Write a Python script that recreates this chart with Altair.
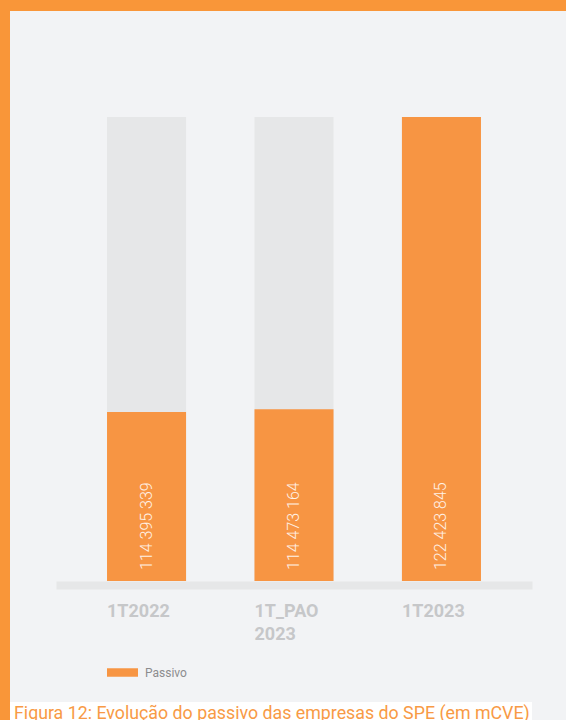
import altair as alt
import pandas as pd

# ---- data ----
CATEGORIES = ["1T2022", "1T_PAO 2023", "1T2023"]
PASSIVO = [114395339, 114473164, 122423845]
SERIES = "Passivo"
CAPTION = "Figura 12: Evolução do passivo das empresas do SPE (em mCVE)"
Y_MIN = 109800000  # axis does not start at zero in the original

df = pd.DataFrame({
    "cat": CATEGORIES,
    "valor": PASSIVO,
    "serie": [SERIES] * len(CATEGORIES),
})
df["maximo"] = max(PASSIVO)
df["rotulo"] = [f"{v:,}".replace(",", " ") for v in PASSIVO]

ORANGE = "#f79543"
FRAME = "#f99639"
GRAY_BAR = "#e6e7e8"
BG = "#f2f3f5"

W, H = 476, 464
PAD = {"left": 56, "top": 117, "right": 34, "bottom": 139}

x_axis = alt.Axis(
    title=None, labelAngle=0, labelAlign="left", labelBaseline="top",
    labelOffset=-39.5, labelPadding=17, labelFont="Roboto", labelFontSize=18,
    labelFontWeight="bold", labelColor="#c6c7c9", labelLineHeight=23,
    labelExpr="split(datum.label, ' ')", ticks=False, domainWidth=8,
    domainColor=GRAY_BAR, offset=4, grid=False,
)
X = alt.X("cat:N", sort=CATEGORIES,
          scale=alt.Scale(paddingInner=0.464, paddingOuter=0.346), axis=x_axis)
y_scale = alt.Scale(domain=[Y_MIN, max(PASSIVO)], zero=False, nice=False)

base = alt.Chart(df)

gray = base.mark_bar(color=GRAY_BAR).encode(
    x=X,
    y=alt.Y("maximo:Q", scale=y_scale, axis=None),
    y2=alt.datum(Y_MIN),
)

orange = base.mark_bar().encode(
    x=X,
    y=alt.Y("valor:Q", scale=y_scale, axis=None),
    y2=alt.datum(Y_MIN),
    color=alt.Color(
        "serie:N", scale=alt.Scale(range=[ORANGE]),
        legend=alt.Legend(
            title=None, orient="none", legendX=51, legendY=540, padding=0,
            symbolType="M-1,-0.274H1V0.274H-1Z", symbolSize=961,
            symbolStrokeWidth=0, symbolOpacity=1, labelFont="Roboto",
            labelFontSize=12, labelColor="#8c8c8e", labelOffset=7,
        ),
    ),
)

labels = base.mark_text(
    angle=270, align="left", baseline="middle", font="Roboto",
    fontSize=16, fontWeight=300, color="#fff1e6",
).encode(x=X, y=alt.value(H - 11), text="rotulo:N")

deco_df = pd.DataFrame({"k": [0]})
deco = alt.Chart(deco_df)
top_band = deco.mark_rect(color=FRAME).encode(
    x=alt.value(-56), x2=alt.value(510), y=alt.value(-117), y2=alt.value(-106))
left_band = deco.mark_rect(color=FRAME).encode(
    x=alt.value(-56), x2=alt.value(-46), y=alt.value(-117), y2=alt.value(603))
white_strip = deco.mark_rect(color="#ffffff").encode(
    x=alt.value(-46), x2=alt.value(476), y=alt.value(585), y2=alt.value(603))

caption = alt.Chart(pd.DataFrame({"t": [CAPTION]})).mark_text(
    align="left", baseline="alphabetic", font="Roboto", fontSize=17.8,
    color="#f89a45",
).encode(x=alt.value(-42), y=alt.value(602), text="t:N")

chart = alt.layer(
    top_band, left_band, white_strip, gray, orange, labels, caption
).properties(
    width=W, height=H, padding=PAD, autosize="none", background=BG,
).configure_view(stroke=None)

chart.save("out.html", embed_options={"renderer": "svg", "actions": False})
